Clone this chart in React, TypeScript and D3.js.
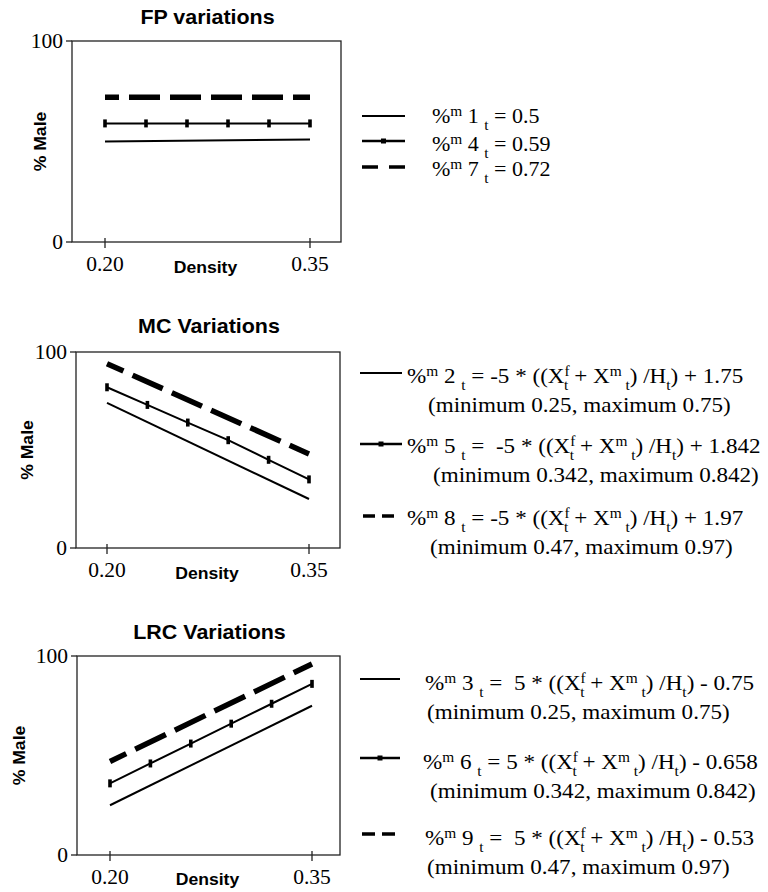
import React from 'react';
import * as d3 from 'd3';

// x values (density)
const densityEnds = [0.20, 0.35];
const markerDensity = [0.20, 0.23, 0.26, 0.29, 0.32, 0.35];
const xTickValues = [0.20, 0.35];
const yTickValues = [0, 100];

const panelTitles = ['FP variations', 'MC Variations', 'LRC Variations'];

// % male
const fpSolid = [50, 51];
const fpMarked = [59, 59, 59, 59, 59, 59];
const fpDashed = [72, 72];

const mcSolid = [74, 25];
const mcMarked = [82, 73, 64, 55, 45, 35];
const mcDashed = [94, 48];

const lrcSolid = [25, 75];
const lrcMarked = [36, 46, 56, 66, 76, 86];
const lrcDashed = [47, 96];

// legend text: ^{} superscript, _{} subscript, __{} subscript stacked under the previous superscript
const fpLegend = [
  ['%^{m} 1 _{t} = 0.5'],
  ['%^{m} 4 _{t} = 0.59'],
  ['%^{m} 7 _{t} = 0.72'],
];
const mcLegend = [
  ['%^{m} 2 _{t} = -5 * ((X^{f}__{t} + X^{m}_{ t}) /H_{t}) + 1.75', '(minimum 0.25, maximum 0.75)'],
  ['%^{m} 5 _{t} =  -5 * ((X^{f}__{t} + X^{m}_{ t}) /H_{t}) + 1.842', '(minimum 0.342, maximum 0.842)'],
  ['%^{m} 8 _{t} = -5 * ((X^{f}__{t} + X^{m}_{ t}) /H_{t}) + 1.97', '(minimum 0.47, maximum 0.97)'],
];
const lrcLegend = [
  ['%^{m} 3 _{t} =  5 * ((X^{f}__{t} + X^{m}_{ t}) /H_{t}) - 0.75', '(minimum 0.25, maximum 0.75)'],
  ['%^{m} 6 _{t} = 5 * ((X^{f}__{t} + X^{m}_{ t}) /H_{t}) - 0.658', '(minimum 0.342, maximum 0.842)'],
  ['%^{m} 9 _{t} =  5 * ((X^{f}__{t} + X^{m}_{ t}) /H_{t}) - 0.53', '(minimum 0.47, maximum 0.97)'],
];

const SERIF = "'Liberation Serif'";
const SANS = "'Liberation Sans'";
const STRETCH = 1.1;

// layout of the three panels
const panels = [
  {
    title: panelTitles[0], solid: fpSolid, marked: fpMarked, dashed: fpDashed, legend: fpLegend,
    box: { l: 72, t: 41, r: 341, b: 242 }, xr: [105, 310], titleY: 24, yLabelX: 40,
    densityY: 273, dash: '31 10', dashOffset: 17, legendSize: 20,
    sample: { x0: 362, x1: 405, dx0: 362, dx1: 405, dash: '16 11' },
    rows: [
      { sy: 116, tx: 432, ty: 123 },
      { sy: 141, tx: 432, ty: 151 },
      { sy: 167, tx: 432, ty: 176 },
    ],
  },
  {
    title: panelTitles[1], solid: mcSolid, marked: mcMarked, dashed: mcDashed, legend: mcLegend,
    box: { l: 76, t: 352, r: 340, b: 548 }, xr: [107, 309], titleY: 333, yLabelX: 27,
    densityY: 579, dash: '33 10', dashOffset: 15, legendSize: 21,
    sample: { x0: 360, x1: 402, dx0: 363, dx1: 394, dash: '12 7' },
    rows: [
      { sy: 373, tx: 407, ty: 383, t2x: 428, t2y: 412 },
      { sy: 444, tx: 407, ty: 453, t2x: 433, t2y: 482 },
      { sy: 516, tx: 407, ty: 525, t2x: 430, t2y: 554 },
    ],
  },
  {
    title: panelTitles[2], solid: lrcSolid, marked: lrcMarked, dashed: lrcDashed, legend: lrcLegend,
    box: { l: 77, t: 656, r: 340, b: 855 }, xr: [110, 312], titleY: 639, yLabelX: 19,
    densityY: 885, dash: '34 10', dashOffset: 16, legendSize: 21,
    sample: { x0: 360, x1: 400, dx0: 362, dx1: 395, dash: '13 7' },
    rows: [
      { sy: 679, tx: 425, ty: 690, t2x: 427, t2y: 719 },
      { sy: 758, tx: 423, ty: 769, t2x: 430, t2y: 798 },
      { sy: 834, tx: 425, ty: 845, t2x: 427, t2y: 874 },
    ],
  },
];

const fmtTick = d3.format('.2f');

// split the little markup into tspans
function richSegments(src: string, size: number) {
  const small = Math.round(size * 0.68);
  const re = /\^\{([^}]*)\}|(_{1,2})\{([^}]*)\}|([^^_]+)/g;
  const out = [];
  let cur = 0;
  let lastSupW = 0;
  let m;
  while ((m = re.exec(src))) {
    let target = 0;
    let str = m[4];
    let fs = size;
    let dx = 0;
    if (m[1] !== undefined) { target = -7; str = m[1]; fs = small; }
    else if (m[2] !== undefined) {
      target = 7; str = m[3]; fs = small;
      if (m[2] === '__') dx = -lastSupW;
    }
    out.push({ str, fs, dy: target - cur, dx });
    lastSupW = m[1] !== undefined ? str.length * 0.36 * small : 0;
    cur = target;
  }
  return out;
}

const RichText = ({ x, y, src, size }) => (
  <text
    transform={`translate(${x},${y}) scale(${STRETCH},1)`}
    style={{ fontFamily: SERIF, fontSize: `${size}px`, whiteSpace: 'pre' }}
    fill="#000"
  >
    {richSegments(src, size).map((s, i) => (
      <tspan key={i} dy={s.dy} dx={s.dx || undefined} style={{ fontSize: `${s.fs}px` }}>{s.str}</tspan>
    ))}
  </text>
);

const Panel = ({ p }) => {
  const { l, t, r, b } = p.box;
  const x = d3.scaleLinear().domain(densityEnds).range(p.xr);
  const y = d3.scaleLinear().domain([0, 100]).range([b, t]);
  const line = d3.line<number[]>().x(d => x(d[0])).y(d => y(d[1]));
  const markedPts = markerDensity.map((d, i) => [d, p.marked[i]]);
  const s = p.sample;

  return (
    <g>
      <text
        transform={`translate(${(l + r) / 2 + 1},${p.titleY}) scale(${STRETCH},1)`}
        textAnchor="middle"
        style={{ fontFamily: SANS, fontWeight: 'bold', fontSize: '19.5px' }}
      >{p.title}</text>

      <rect x={l} y={t} width={r - l} height={b - t} fill="none" stroke="#222" strokeWidth={1.3} />

      {/* y axis */}
      {yTickValues.map(v => (
        <g key={v} transform={`translate(${l},${y(v)})`}>
          <line x1={-6} x2={0} stroke="#222" strokeWidth={1.3} />
          <text x={-9} dy="0.33em" textAnchor="end" style={{ fontFamily: SERIF, fontSize: '21.5px' }}>{v}</text>
        </g>
      ))}

      {/* x axis */}
      {xTickValues.map(v => (
        <g key={v} transform={`translate(${x(v)},${b})`}>
          <line y1={-4} y2={6} stroke="#222" strokeWidth={1.3} />
          <text y={29} textAnchor="middle" style={{ fontFamily: SERIF, fontSize: '21.5px' }}>{fmtTick(v)}</text>
        </g>
      ))}

      <text
        transform={`translate(${(l + r) / 2 - 1},${p.densityY}) scale(${STRETCH},1)`}
        textAnchor="middle"
        style={{ fontFamily: SANS, fontWeight: 'bold', fontSize: '16px' }}
      >Density</text>
      <text
        transform={`translate(${p.yLabelX + 6},${(t + b) / 2}) rotate(-90) scale(${STRETCH},1)`}
        textAnchor="middle"
        style={{ fontFamily: SANS, fontWeight: 'bold', fontSize: '16px' }}
      >% Male</text>

      {/* series */}
      <path d={line(densityEnds.map((d, i) => [d, p.solid[i]]))} fill="none" stroke="#000" strokeWidth={2} />
      <path d={line(markedPts)} fill="none" stroke="#000" strokeWidth={2} />
      {markedPts.map((d, i) => (
        <rect key={i} x={x(d[0]) - 1.8} y={y(d[1]) - 4} width={3.6} height={8} fill="#000" />
      ))}
      <path
        d={line(densityEnds.map((d, i) => [d, p.dashed[i]]))}
        fill="none" stroke="#000" strokeWidth={5.5}
        strokeDasharray={p.dash} strokeDashoffset={p.dashOffset}
      />

      {/* legend */}
      {p.rows.map((row, i) => (
        <g key={i}>
          {i === 0 && <line x1={s.x0} x2={s.x1} y1={row.sy} y2={row.sy} stroke="#000" strokeWidth={2} />}
          {i === 1 && (
            <g>
              <line x1={s.x0} x2={s.x1} y1={row.sy} y2={row.sy} stroke="#000" strokeWidth={2.5} />
              <rect x={(s.x0 + s.x1) / 2 - 2.5} y={row.sy - 2.5} width={5} height={5} fill="#000" />
            </g>
          )}
          {i === 2 && (
            <line x1={s.dx0} x2={s.dx1} y1={row.sy} y2={row.sy} stroke="#000" strokeWidth={3.5} strokeDasharray={s.dash} />
          )}
          <RichText x={row.tx} y={row.ty} src={p.legend[i][0]} size={p.legendSize} />
          {p.legend[i][1] && (
            <text
              transform={`translate(${row.t2x},${row.t2y}) scale(${STRETCH},1)`}
              style={{ fontFamily: SERIF, fontSize: `${p.legendSize}px`, whiteSpace: 'pre' }}
            >{p.legend[i][1]}</text>
          )}
        </g>
      ))}
    </g>
  );
};

const App = () => (
  <svg width="768" height="892" style={{ position: 'absolute', left: 0, top: 0, background: '#fff' }}>
    {panels.map((p, i) => <Panel key={i} p={p} />)}
  </svg>
);

export default App;
